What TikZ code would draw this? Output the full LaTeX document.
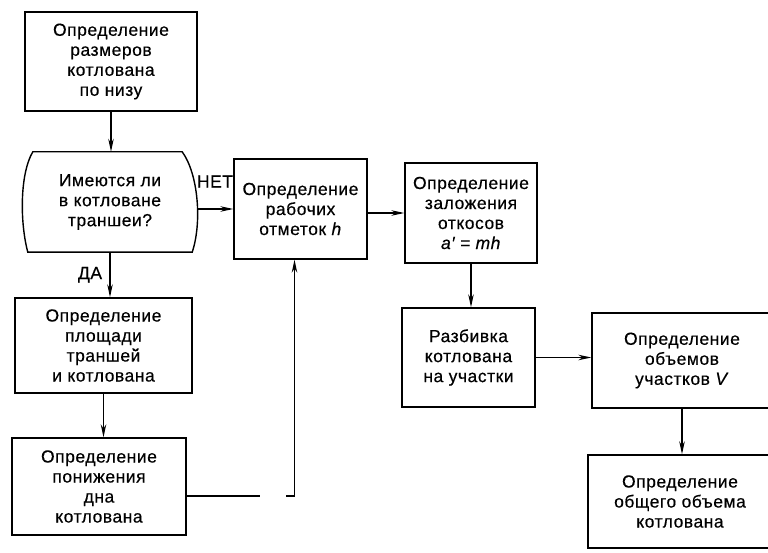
\documentclass[tikz,border=0pt]{standalone}
\usepackage{fontspec}
\setmainfont{Liberation Sans}[LetterSpace=3,FakeBold=0.4]
\usetikzlibrary{arrows.meta,positioning}

\begin{document}
\begin{tikzpicture}[x=1pt,y=1pt,
box/.style={draw,line width=1.4pt,align=center,inner sep=2pt,font=\fontsize{17.5}{20}\selectfont},
lbl/.style={align=center,font=\fontsize{17.5}{20}\selectfont},
line/.style={line width=1.2pt},
arrow/.style={-{Stealth[length=13pt,width=5.5pt]},line width=1.2pt}
]
\useasboundingbox (0,0) rectangle (768,552);
\node[box,minimum width=172pt,minimum height=99pt] (size) at (111,490.5) {Определение\\размеров\\котлована\\по низу};
\node[lbl,minimum width=174pt,minimum height=100pt] (trench) at (110,350) {Имеются ли\\в котловане\\траншеи?};
\node[box,minimum width=133pt,minimum height=100pt] (work) at (300.5,343) {Определение\\рабочих\\отметок \textit{h}};
\node[box,minimum width=132pt,minimum height=100pt] (slope) at (471,339) {Определение\\заложения\\откосов\\\textit{a′ = mh}};
\node[box,minimum width=133pt,minimum height=99pt] (split) at (468.5,194.5) {Разбивка\\котлована\\на участки};
\node[box,minimum width=180pt,minimum height=95pt] (volume) at (682,191.5) {Определение\\объемов\\участков \textit{V}};
\node[box,minimum width=184pt,minimum height=93pt] (total) at (680,50.5) {Определение\\общего объема\\котлована};
\node[box,minimum width=177pt,minimum height=95pt] (area) at (103.5,206.5) {Определение\\площади\\траншей\\и котлована};
\node[box,minimum width=174pt,minimum height=97pt] (lower) at (99,65.5) {Определение\\понижения\\дна\\котлована};
\node[lbl] (no) at (215,370.5) {НЕТ};
\draw[line width=1.4pt] ([xshift=10pt]trench.north west) -- ([xshift=-15pt]trench.north east)
  .. controls +(16,-22) and +(10,30) .. ([xshift=-5pt]trench.south east)
  -- ([xshift=5pt]trench.south west)
  .. controls +(-8,30) and +(-13,-22) .. ([xshift=10pt]trench.north west) -- cycle;
\coordinate (gapL) at (260,56);
\coordinate (gapR) at (286,56);
\draw[arrow] (size.south) -- (size.south |- trench.north);
\draw[arrow] (trench.east |- work.west) -- (work.west);
\draw[arrow] (work.east |- slope.west) -- (slope.west);
\draw[arrow] (slope.south) -- (slope.south |- split.north);
\draw[arrow] (split.east) -- (split.east -| volume.west);
\draw[arrow] (volume.south) -- (volume.south |- total.north);
\draw[arrow] (trench.south) -- node[lbl,left=4pt] (yes) {ДА} (trench.south |- area.north);
\draw[arrow] (area.south) -- (area.south |- lower.north);
\draw[line] (lower.east |- gapL) -- (gapL);
\draw[arrow] (gapR) -| ([xshift=-6pt]work.south);
\end{tikzpicture}
\end{document}
